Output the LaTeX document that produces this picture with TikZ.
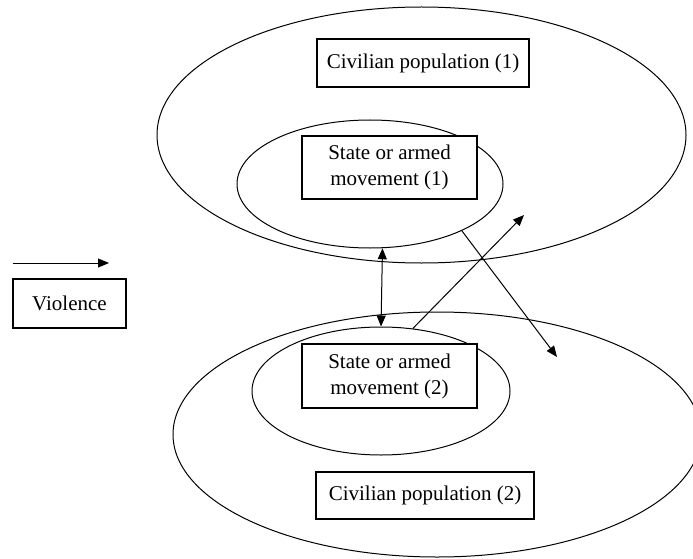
\documentclass[tikz,border=0pt]{standalone}
\usepackage{fontspec}
\setmainfont{Liberation Serif}
\usetikzlibrary{arrows.meta}
\usetikzlibrary{shapes.geometric}
\tikzset{l/.style={font=\fontsize{21}{26}\selectfont}}
\tikzset{box/.style={draw, fill=white, line width=1.2pt, inner sep=0pt, align=center}}
\tikzset{ring/.style={ellipse, draw, line width=1pt, inner sep=0pt}}
\tikzset{
hit/.style={line width=1pt, -{Triangle[length=11pt, width=9pt]}}, mutual/.style={line width=1pt, {Triangle[length=11pt, width=9pt]}-{Triangle[length=11pt, width=9pt]}}
}

\begin{document}
\begin{tikzpicture}[x=1pt, y=-1pt]
    \useasboundingbox (0,0) rectangle (693,559);
    \node [ring, minimum width=529, minimum height=256] (pop1) at (421.5,135) {};
    \node [ring, minimum width=528, minimum height=245] (pop2) at (437,434.5) {};
    \node [ring, minimum width=266, minimum height=128] (arm1) at (370,184) {};
    \node [ring, minimum width=258, minimum height=128] (arm2) at (381,391) {};
    \node [box, l, minimum width=212, minimum height=48] (civ1) at (423,63) {Civilian population (1)};
    \node [box, l, minimum width=175, minimum height=63] (st1) at (389.5,167.5) {State or armed\\movement (1)};
    \node [box, l, minimum width=175, minimum height=64] (st2) at (389.5,376) {State or armed\\movement (2)};
    \node [box, l, minimum width=218, minimum height=47] (civ2) at (425,495.5) {Civilian population (2)};
    \node [box, l, minimum width=113, minimum height=49] (vio) at (69.5,303.5) {Violence};
    \coordinate (v0) at (13,263);
    \coordinate (v1) at (109,263);
    \coordinate (up) at (524,215);
    \coordinate (down) at (557,357);
    \draw[hit] (v0) -- (v1);
    \draw[mutual] (arm1.281) -- (arm2.north);
    \draw[hit] (arm2.63) -- (up);
    \draw[hit] (arm1.333) -- (down);
\end{tikzpicture}
\end{document}
